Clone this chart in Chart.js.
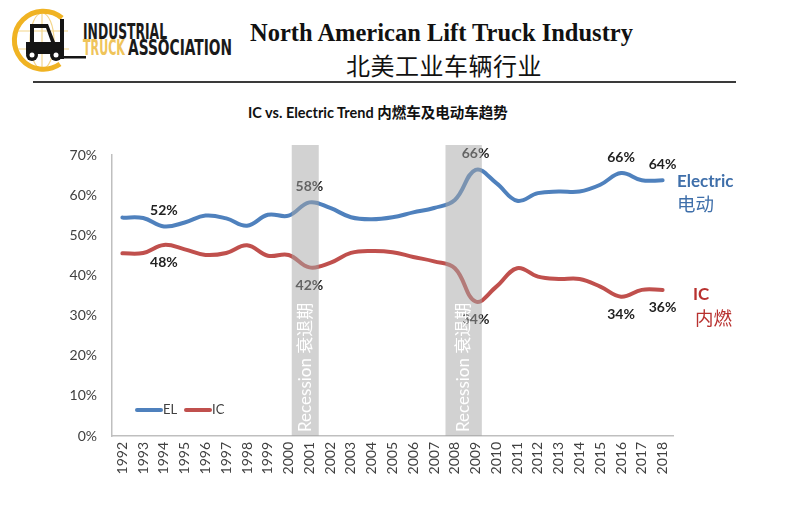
<!DOCTYPE html>
<html><head><meta charset="utf-8">
<script src="https://cdn.jsdelivr.net/npm/chart.js@4.4.1/dist/chart.umd.min.js"></script>
<style>
html,body{margin:0;padding:0;background:#fff;}
#wrap{position:relative;width:800px;height:507px;overflow:hidden;background:#fff;}
#c{position:absolute;left:0;top:0;}
.t1{position:absolute;left:250px;top:21px;font:bold 24.5px "Liberation Serif","Times New Roman",serif;line-height:24px;color:#111;white-space:nowrap;}
.t2{position:absolute;left:346px;top:53px;font:400 24px "Noto Sans CJK SC",sans-serif;line-height:24px;color:#111;white-space:nowrap;letter-spacing:0.5px;}
.rule{position:absolute;left:33px;top:81px;width:703px;height:2px;background:#3a3a3a;}
.t3{position:absolute;left:248px;top:105px;font:bold 14.5px Lato,"Noto Sans CJK SC",sans-serif;line-height:16px;color:#111;white-space:nowrap;}
#logo{position:absolute;left:0;top:0;}
</style></head>
<body><div id="wrap">
<svg id="logo" width="245" height="82" viewBox="0 0 245 82">
  <g fill="none" stroke="#F4D58A" stroke-width="1.2">
    <ellipse cx="42" cy="41" rx="12" ry="28"/>
    <line x1="42" y1="13" x2="42" y2="69"/>
    <line x1="16" y1="31" x2="68" y2="31"/>
    <line x1="15" y1="49" x2="69" y2="49"/>
  </g>
  <path d="M62 18 A29 29 0 1 0 60 64" fill="none" stroke="#F0B323" stroke-width="5"/>
  <g fill="#151515">
    <path d="M30 24 L48 24 L55 42 L60 42 L60 54 L26 54 L26 42 L30 42 Z M34 28 L34 42 L51 42 L46 28 Z"/>
    <rect x="60" y="19" width="4" height="40"/>
    <rect x="60" y="56" width="26" height="2.5"/>
    <circle cx="32" cy="55" r="6"/>
    <circle cx="56" cy="55" r="6"/>
  </g>
  <circle cx="32" cy="55" r="2.5" fill="#fff"/>
  <circle cx="56" cy="55" r="2.5" fill="#fff"/>
  <text x="83" y="38.5" font-family="'Liberation Sans Narrow','DejaVu Sans Condensed',sans-serif" font-weight="bold" font-size="21" fill="#1a1a1a" textLength="84" lengthAdjust="spacingAndGlyphs">INDUSTRIAL</text>
  <text x="83" y="55" font-family="'Liberation Sans Narrow','DejaVu Sans Condensed',sans-serif" font-weight="bold" font-size="21" fill="#EFC45A" textLength="42" lengthAdjust="spacingAndGlyphs">TRUCK</text>
  <text x="128" y="55" font-family="'Liberation Sans Narrow','DejaVu Sans Condensed',sans-serif" font-weight="bold" font-size="21" fill="#1a1a1a" textLength="104" lengthAdjust="spacingAndGlyphs">ASSOCIATION</text>
</svg>
<div class="t1">North American Lift Truck Industry</div>
<div class="t2">北美工业车辆行业</div>
<div class="rule"></div>
<div class="t3">IC vs. Electric Trend 内燃车及电动车趋势</div>
<canvas id="c" width="800" height="507"></canvas>
</div>
<script>
const years = ['1992','1993','1994','1995','1996','1997','1998','1999','2000','2001','2002','2003','2004','2005','2006','2007','2008','2009','2010','2011','2012','2013','2014','2015','2016','2017','2018'];
const electric = [54.4,54.3,52.2,53.2,54.9,54.2,52.4,55.1,54.9,58.2,56.8,54.5,54.0,54.5,55.7,56.8,58.8,66.3,63.0,58.6,60.5,60.9,60.9,62.6,65.5,63.7,63.7];
const ic = [45.5,45.6,47.6,46.5,45.1,45.6,47.5,44.9,45.1,42.0,43.1,45.6,46.1,45.8,44.6,43.5,41.8,33.5,37.2,41.8,39.7,39.1,39.1,37.2,34.7,36.4,36.4];
const yTicks = [0,10,20,30,40,50,60,70];
const labelYears = ['1994','2001','2009','2016','2018'];
const elLabelText = ['52%','58%','66%','66%','64%'];
const icLabelText = ['48%','42%','34%','34%','36%'];
const recessionStart = [2000.15, 2007.55];
const recessionEnd = [2001.45, 2009.3];
const recessionText = 'Recession 衰退期';

const BLUE = '#4F81BD', RED = '#C0504D';
const FONT = 'Lato, "Noto Sans CJK SC", sans-serif';

const overlay = {
  id: 'overlay',
  afterDatasetsDraw(chart) {
    const ctx = chart.ctx, x = chart.scales.x, y = chart.scales.y, ca = chart.chartArea;
    ctx.save();
    // data labels
    ctx.font = 'bold 14px ' + FONT;
    ctx.fillStyle = '#222';
    ctx.textAlign = 'center';
    ctx.textBaseline = 'middle';
    labelYears.forEach((yr, i) => {
      const idx = years.indexOf(yr);
      const px = x.getPixelForValue(idx);
      ctx.fillText(elLabelText[i], px, y.getPixelForValue(electric[idx]) - 16);
      ctx.fillText(icLabelText[i], px, y.getPixelForValue(ic[idx]) + 18);
    });
    // recession bands
    recessionStart.forEach((s, i) => {
      const x0 = x.getPixelForValue(s - 1992);
      const x1 = x.getPixelForValue(recessionEnd[i] - 1992);
      ctx.fillStyle = 'rgba(166,166,166,0.5)';
      ctx.fillRect(x0, ca.top - 10, x1 - x0, ca.bottom - ca.top + 10);
      ctx.save();
      ctx.translate((x0 + x1) / 2, ca.bottom - 4);
      ctx.rotate(-Math.PI / 2);
      ctx.fillStyle = '#fff';
      ctx.font = '17px ' + FONT;
      ctx.textAlign = 'left';
      ctx.textBaseline = 'middle';
      ctx.fillText(recessionText, 0, 0);
      ctx.restore();
    });
    // legend
    const ly = ca.bottom - 26, lx = ca.left + 25;
    ctx.lineWidth = 4; ctx.lineCap = 'round';
    ctx.strokeStyle = BLUE; ctx.beginPath(); ctx.moveTo(lx, ly); ctx.lineTo(lx + 24, ly); ctx.stroke();
    ctx.strokeStyle = RED; ctx.beginPath(); ctx.moveTo(lx + 49, ly); ctx.lineTo(lx + 73, ly); ctx.stroke();
    ctx.font = '13px ' + FONT; ctx.fillStyle = '#404040'; ctx.textAlign = 'left'; ctx.textBaseline = 'middle';
    ctx.fillText('EL', lx + 26, ly);
    ctx.fillText('IC', lx + 75, ly);
    // right side series names
    ctx.textAlign = 'left';
    ctx.fillStyle = '#3F6FAA';
    ctx.font = 'bold 17px ' + FONT;
    ctx.fillText('Electric', ca.right + 4, 182);
    ctx.font = '18.5px "Noto Sans CJK SC", sans-serif';
    ctx.fillText('电动', ca.right + 4, 204);
    ctx.fillStyle = '#B8312F';
    ctx.font = 'bold 17px ' + FONT;
    ctx.fillText('IC', ca.right + 20, 295);
    ctx.font = '18.5px "Noto Sans CJK SC", sans-serif';
    ctx.fillText('内燃', ca.right + 22, 318);
    ctx.restore();
  }
};

new Chart(document.getElementById('c'), {
  type: 'line',
  data: {
    labels: years,
    datasets: [
      { label: 'EL', data: electric, borderColor: BLUE, borderWidth: 4, pointRadius: 0, tension: 0.4, fill: false, borderCapStyle: 'round' },
      { label: 'IC', data: ic, borderColor: RED, borderWidth: 4, pointRadius: 0, tension: 0.4, fill: false, borderCapStyle: 'round' }
    ]
  },
  options: {
    responsive: false,
    animation: false,
    events: [],
    layout: { padding: { left: 40, top: 155, right: 127, bottom: 11 } },
    plugins: { legend: { display: false }, title: { display: false }, tooltip: { enabled: false } },
    scales: {
      x: {
        offset: true,
        grid: { display: false, drawTicks: false },
        border: { display: true, color: '#BFBFBF', width: 1.5 },
        ticks: { autoSkip: false, minRotation: 90, maxRotation: 90, padding: 6, color: '#404040', font: { family: FONT, size: 14 } },
        afterFit(s) { s.height = 60; }
      },
      y: {
        min: 0, max: 70,
        afterBuildTicks(s) { s.ticks = yTicks.map(v => ({ value: v })); },
        grid: { display: false, drawTicks: false },
        border: { display: true, color: '#BFBFBF', width: 1.5 },
        ticks: { padding: 15, color: '#404040', font: { family: FONT, size: 14 }, callback: v => v + '%' },
        afterFit(s) { s.width = 72; }
      }
    }
  },
  plugins: [overlay]
});
</script>
</body></html>
